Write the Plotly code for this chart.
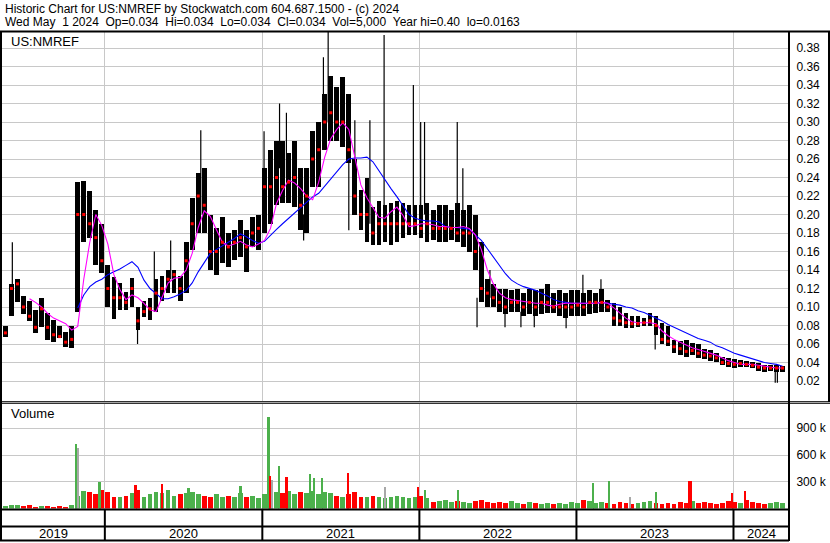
import pandas as pd
import plotly.graph_objects as go

# ---------------- data ----------------
# biweekly samples, centred on these dates
dates = pd.date_range("2019-05-15", periods=130, freq="14D")

low = [0.068, 0.09, 0.105, 0.092, 0.085, 0.072, 0.078, 0.064, 0.062, 0.066,
       0.057, 0.056, 0.095, 0.17, 0.175, 0.145, 0.137, 0.10, 0.087, 0.097,
       0.097, 0.10, 0.075, 0.089, 0.086, 0.095, 0.107, 0.115, 0.115, 0.107,
       0.115, 0.162, 0.18, 0.18, 0.14, 0.135, 0.148, 0.143, 0.151, 0.154,
       0.138, 0.165, 0.162, 0.18, 0.19, 0.21, 0.212, 0.212, 0.208, 0.183,
       0.18, 0.23, 0.23, 0.27, 0.28, 0.28, 0.273, 0.256, 0.20, 0.183,
       0.17, 0.167, 0.167, 0.17, 0.167, 0.17, 0.175, 0.178, 0.178, 0.175,
       0.17, 0.172, 0.17, 0.17, 0.172, 0.17, 0.165, 0.16, 0.14, 0.105,
       0.10, 0.10, 0.095, 0.092, 0.095, 0.095, 0.09, 0.092, 0.09, 0.092,
       0.094, 0.093, 0.09, 0.088, 0.09, 0.09, 0.09, 0.092, 0.093, 0.095,
       0.095, 0.08, 0.079, 0.077, 0.077, 0.078, 0.079, 0.079, 0.07, 0.06,
       0.058, 0.05, 0.048, 0.046, 0.048, 0.045, 0.044, 0.042, 0.041, 0.037,
       0.035, 0.034, 0.035, 0.035, 0.034, 0.031, 0.03, 0.031, 0.03, 0.03]

high = [0.08, 0.125, 0.13, 0.112, 0.107, 0.097, 0.11, 0.093, 0.086, 0.08,
        0.073, 0.08, 0.235, 0.236, 0.225, 0.205, 0.19, 0.145, 0.132, 0.126,
        0.116, 0.131, 0.10, 0.107, 0.11, 0.13, 0.133, 0.14, 0.14, 0.133,
        0.17, 0.218, 0.245, 0.25, 0.20, 0.185, 0.197, 0.18, 0.183, 0.194,
        0.183, 0.197, 0.20, 0.25, 0.27, 0.28, 0.28, 0.266, 0.28, 0.25,
        0.25, 0.29, 0.30, 0.33, 0.35, 0.338, 0.349, 0.33, 0.26, 0.226,
        0.24, 0.208, 0.215, 0.21, 0.212, 0.215, 0.212, 0.21, 0.21, 0.21,
        0.212, 0.205, 0.21, 0.21, 0.205, 0.212, 0.205, 0.21, 0.20, 0.17,
        0.13, 0.125, 0.12, 0.12, 0.118, 0.12, 0.115, 0.12, 0.118, 0.12,
        0.125, 0.115, 0.118, 0.115, 0.118, 0.118, 0.115, 0.118, 0.115, 0.12,
        0.108, 0.104, 0.10, 0.093, 0.09, 0.09, 0.088, 0.093, 0.09, 0.083,
        0.08, 0.064, 0.063, 0.064, 0.061, 0.06, 0.055, 0.054, 0.05, 0.046,
        0.045, 0.044, 0.043, 0.042, 0.041, 0.039, 0.037, 0.037, 0.037, 0.036]

close = [0.072, 0.12, 0.125, 0.10, 0.09, 0.078, 0.098, 0.078, 0.07, 0.068,
         0.062, 0.065, 0.20, 0.20, 0.19, 0.175, 0.15, 0.12, 0.11, 0.11,
         0.105, 0.12, 0.085, 0.095, 0.098, 0.115, 0.12, 0.13, 0.135, 0.12,
         0.15, 0.19, 0.22, 0.21, 0.16, 0.16, 0.17, 0.165, 0.17, 0.175,
         0.165, 0.18, 0.185, 0.23, 0.23, 0.24, 0.23, 0.235, 0.24, 0.21,
         0.22, 0.26, 0.27, 0.30, 0.31, 0.30, 0.30, 0.27, 0.22, 0.20,
         0.20, 0.18, 0.19, 0.19, 0.19, 0.19, 0.19, 0.19, 0.19, 0.185,
         0.19, 0.185, 0.185, 0.185, 0.185, 0.18, 0.18, 0.18, 0.16, 0.12,
         0.115, 0.11, 0.105, 0.10, 0.105, 0.105, 0.10, 0.105, 0.10, 0.105,
         0.105, 0.10, 0.10, 0.10, 0.10, 0.102, 0.10, 0.105, 0.105, 0.105,
         0.10, 0.088, 0.085, 0.083, 0.082, 0.082, 0.083, 0.085, 0.08, 0.065,
         0.063, 0.057, 0.055, 0.052, 0.053, 0.05, 0.048, 0.047, 0.045, 0.04,
         0.039, 0.038, 0.039, 0.038, 0.037, 0.035, 0.034, 0.034, 0.034, 0.034]

ma_fast = [None, None, None, None, 0.109, 0.105, 0.10, 0.093, 0.088, 0.085,
           0.082, 0.075, 0.079, 0.13, 0.17, 0.20, 0.188, 0.168, 0.135, 0.119,
           0.108, 0.113, 0.11, 0.104, 0.097, 0.095, 0.11, 0.126, 0.131, 0.132,
           0.14, 0.158, 0.186, 0.204, 0.198, 0.183, 0.17, 0.166, 0.168, 0.171,
           0.167, 0.165, 0.168, 0.172, 0.185, 0.212, 0.226, 0.237, 0.234, 0.228,
           0.22, 0.216, 0.235, 0.262, 0.282, 0.292, 0.299, 0.292, 0.262, 0.232,
           0.218, 0.207, 0.197, 0.196, 0.203, 0.208, 0.199, 0.187, 0.188, 0.19,
           0.19, 0.189, 0.187, 0.187, 0.186, 0.186, 0.187, 0.185, 0.178, 0.162,
           0.14, 0.125, 0.115, 0.11, 0.108, 0.107, 0.106, 0.105, 0.104, 0.104,
           0.102, 0.101, 0.103, 0.104, 0.104, 0.104, 0.104, 0.104, 0.104, 0.105,
           0.104, 0.099, 0.093, 0.088, 0.084, 0.083, 0.083, 0.083, 0.082, 0.074,
           0.069, 0.065, 0.062, 0.059, 0.056, 0.054, 0.052, 0.05, 0.048, 0.045,
           0.042, 0.04, 0.038, 0.038, 0.038, 0.037, 0.036, 0.035, 0.034, 0.034]

ma_slow = [None] * 12 + [
           0.099, 0.113, 0.122, 0.127, 0.13, 0.135, 0.138, 0.141,
           0.145, 0.149, 0.143, 0.129, 0.12, 0.114, 0.109, 0.109, 0.111, 0.114,
           0.118, 0.126, 0.138, 0.148, 0.158, 0.162, 0.166, 0.17, 0.174, 0.179,
           0.176, 0.172, 0.169, 0.171, 0.178, 0.184, 0.19, 0.196, 0.202, 0.207,
           0.214, 0.219, 0.223, 0.231, 0.238, 0.246, 0.254, 0.26, 0.261, 0.261,
           0.262, 0.257, 0.247, 0.237, 0.228, 0.219, 0.209, 0.2, 0.196, 0.194,
           0.193, 0.193, 0.192, 0.187, 0.186, 0.186, 0.185, 0.184, 0.178, 0.172,
           0.163, 0.154, 0.144, 0.136, 0.129, 0.125, 0.122, 0.12, 0.118, 0.115,
           0.112, 0.108, 0.106, 0.105, 0.104, 0.104, 0.104, 0.104, 0.104, 0.105,
           0.104, 0.103, 0.102, 0.10, 0.099, 0.096, 0.094, 0.091, 0.088, 0.085,
           0.081, 0.078, 0.075, 0.072, 0.069, 0.066, 0.064, 0.062, 0.058, 0.056,
           0.053, 0.05, 0.048, 0.046, 0.044, 0.042, 0.04, 0.039, 0.038, 0.036]

# single-day price spikes (thin lines)
spike_dates = ["2019-05-31", "2020-03-17", "2020-04-25", "2020-06-02", "2020-08-11",
               "2021-01-05", "2021-02-10", "2021-02-26", "2021-04-07", "2021-05-23",
               "2021-06-03", "2021-07-21", "2021-08-04", "2021-09-08", "2021-10-11",
               "2021-12-18", "2022-01-04", "2022-01-13", "2022-03-30", "2022-04-12",
               "2022-05-15", "2022-06-14", "2022-07-19", "2022-08-25", "2022-09-25",
               "2022-12-08", "2023-01-16", "2023-02-27", "2023-07-03", "2024-04-07",
               "2024-04-12"]
spike_from = [0.10, 0.085, 0.095, 0.13, 0.20, 0.22, 0.25, 0.24, 0.20, 0.30,
              0.30, 0.26, 0.22, 0.19, 0.20, 0.20, 0.20, 0.20, 0.20, 0.20,
              0.11, 0.11, 0.095, 0.095, 0.095, 0.095, 0.115, 0.115, 0.075, 0.033,
              0.033]
spike_to = [0.17, 0.06, 0.16, 0.172, 0.291, 0.29, 0.32, 0.31, 0.172, 0.37,
            0.40, 0.183, 0.302, 0.302, 0.394, 0.34, 0.30, 0.30, 0.30, 0.25,
            0.078, 0.14, 0.078, 0.078, 0.078, 0.077, 0.135, 0.13, 0.054, 0.018,
            0.018]

# typical volume per sample (thousands of shares)
volume_k = [30, 50, 40, 30, 45, 25, 35, 30, 25, 35,
            25, 40, 150, 200, 190, 170, 210, 190, 140, 130,
            150, 180, 210, 140, 170, 190, 180, 210, 150, 170,
            180, 190, 170, 150, 140, 170, 130, 150, 140, 180,
            130, 150, 120, 170, 200, 190, 180, 200, 170, 190,
            180, 200, 170, 190, 180, 150, 140, 170, 190, 140,
            130, 150, 140, 120, 140, 150, 130, 120, 140, 150,
            120, 80, 95, 105, 80, 95, 80, 70, 95, 105,
            80, 70, 80, 70, 95, 70, 60, 80, 70, 60,
            70, 60, 70, 60, 80, 70, 100, 95, 70, 80,
            70, 60, 80, 70, 60, 70, 80, 95, 70, 60,
            70, 60, 80, 70, 95, 70, 80, 70, 60, 70,
            95, 80, 70, 100, 80, 70, 60, 70, 80, 70]

# single-day volume spikes
vspike_dates = ["2019-10-26", "2019-10-31", "2019-12-20", "2020-03-13", "2020-05-13",
                "2020-07-14", "2020-11-12", "2021-01-16", "2021-01-20", "2021-01-24",
                "2021-02-09", "2021-02-27", "2021-04-22", "2021-05-01", "2021-05-20",
                "2021-07-19", "2021-10-13", "2021-12-29", "2022-01-14", "2022-04-01",
                "2023-02-09", "2023-03-18", "2023-05-06", "2023-07-05", "2023-09-20",
                "2023-09-25", "2023-12-29", "2024-01-28"]
vspike_k = [727, 680, 300, 265, 275, 240, 253, 1030, 370, 330,
            485, 360, 390, 350, 345, 400, 245, 245, 210, 210,
            290, 310, 140, 195, 310, 310, 175, 205]
vspike_dir = ["up", "flat", "up", "down", "down", "up", "up", "up", "down", "flat",
              "up", "down", "up", "up", "up", "down", "flat", "down", "up", "up",
              "up", "up", "flat", "up", "down", "down", "down", "down"]

years = ["2019", "2020", "2021", "2022", "2023", "2024"]
x_range = ["2019-05-07", "2024-05-09"]
price_ticks = [0.02, 0.04, 0.06, 0.08, 0.10, 0.12, 0.14, 0.16, 0.18, 0.20,
               0.22, 0.24, 0.26, 0.28, 0.30, 0.32, 0.34, 0.36, 0.38]
vol_ticks = [300000, 600000, 900000]
vol_tick_text = ["300 k", "600 k", "900 k"]

assert len(low) == len(high) == len(close) == len(ma_fast) == len(ma_slow) == len(volume_k) == 130

# ---------------- styling ----------------
FONT = "Arial, Liberation Sans, sans-serif"
GREEN = "#4CB04C"
RED = "#FF0000"
GRAY = "#A8A8A8"
GRID = "#C8C8C8"
DAY = 86400000

W, H = 830, 543
ML, MR, MT, MB = 2, 41, 32, 2
PW, PH = W - ML - MR, H - MT - MB


def px_y(py):
    return (H - MB - py) / PH


def px_x(px):
    return (px - ML) / PW


fig = go.Figure()

# price bodies (low -> high)
fig.add_trace(go.Bar(x=dates, y=[h - l for h, l in zip(high, low)], base=low,
                     width=11 * DAY, marker=dict(color="black", line=dict(width=0)),
                     xaxis="x", yaxis="y", hoverinfo="skip"))

# thin spikes
sx, sy = [], []
for d, a, b in zip(spike_dates, spike_from, spike_to):
    sx += [d, d, None]
    sy += [a, b, None]
fig.add_trace(go.Scatter(x=sx, y=sy, mode="lines", line=dict(color="black", width=1.2),
                         xaxis="x", yaxis="y", hoverinfo="skip"))

# moving averages
fig.add_trace(go.Scatter(x=dates, y=ma_slow, mode="lines", line=dict(color="#0000FF", width=1.1),
                         xaxis="x", yaxis="y", connectgaps=False))
fig.add_trace(go.Scatter(x=dates, y=ma_fast, mode="lines", line=dict(color="#FF00FF", width=1.1),
                         xaxis="x", yaxis="y", connectgaps=False))

# closes
fig.add_trace(go.Scatter(x=dates, y=close, mode="markers",
                         marker=dict(symbol="square", size=3, color=RED, line=dict(width=0)),
                         xaxis="x", yaxis="y"))

# volume
vol_colors = [GREEN] + [GREEN if close[i] >= close[i - 1] else RED for i in range(1, len(close))]
fig.add_trace(go.Bar(x=dates, y=[v * 1000 for v in volume_k], width=11 * DAY,
                     marker=dict(color=vol_colors, line=dict(width=0)),
                     xaxis="x2", yaxis="y2"))
cmap = {"up": GREEN, "down": RED, "flat": GRAY}
fig.add_trace(go.Bar(x=vspike_dates, y=[v * 1000 for v in vspike_k], width=4 * DAY,
                     marker=dict(color=[cmap[c] for c in vspike_dir], line=dict(width=0)),
                     xaxis="x2", yaxis="y2"))

year_starts = [f"{y}-01-01" for y in years[1:]]

price_bottom = 401
fig.update_layout(
    width=W, height=H, margin=dict(l=ML, r=MR, t=MT, b=MB),
    paper_bgcolor="white", plot_bgcolor="white", showlegend=False, barmode="overlay",
    bargap=0,
    font=dict(family=FONT, size=12, color="black"),
    xaxis=dict(type="date", range=x_range, domain=[0, 1], anchor="y",
               tickvals=year_starts, showticklabels=False, ticks="",
               showgrid=True, gridcolor=GRID, gridwidth=1, zeroline=False, showline=False),
    xaxis2=dict(type="date", range=x_range, domain=[0, 1], anchor="y2", matches="x",
                tickvals=year_starts, showticklabels=False, ticks="",
                showgrid=True, gridcolor=GRID, gridwidth=1, zeroline=False, showline=False),
    yaxis=dict(domain=[px_y(price_bottom), 1],
               range=[-(price_bottom - 399.5) / 925, (399.5 - MT) / 925],
               side="right", anchor="x", tickvals=price_ticks,
               ticktext=[f"{t:.2f}" for t in price_ticks],
               ticks="outside", ticklen=4, tickcolor="rgba(0,0,0,0)",
               showgrid=True, gridcolor=GRID, gridwidth=1, zeroline=False, showline=False,
               tickfont=dict(size=12, family=FONT, color="black")),
    yaxis2=dict(domain=[px_y(508.5), px_y(403.5)], range=[0, 1178000],
                side="right", anchor="x2", tickvals=vol_ticks, ticktext=vol_tick_text,
                ticks="outside", ticklen=4, tickcolor="rgba(0,0,0,0)",
                showgrid=True, gridcolor=GRID, gridwidth=1, zeroline=False, showline=False,
                tickfont=dict(size=12, family=FONT, color="black")),
)

shapes = []


def hline(py, x0px, x1px, w):
    shapes.append(dict(type="line", xref="paper", yref="paper",
                       x0=px_x(x0px), x1=px_x(x1px), y0=px_y(py), y1=px_y(py),
                       line=dict(color="black", width=w)))


def vline(px, py0, py1, w):
    shapes.append(dict(type="line", xref="paper", yref="paper",
                       x0=px_x(px), x1=px_x(px), y0=px_y(py0), y1=px_y(py1),
                       line=dict(color="black", width=w)))


hline(31.5, 0, 830, 2)          # top border
hline(401.7, 0, 830, 1)         # double line between panels
hline(403.3, 0, 830, 1)
hline(509.5, 0, 789, 2)         # year band
hline(526.5, 0, 789, 2)
hline(540.5, 0, 789, 2)
vline(1, 31, 541, 2)            # left border
vline(789, 31, 541, 2)          # right border of plot
vline(829, 31, 402, 2)          # outer right border of price panel
for ys in year_starts:
    shapes.append(dict(type="line", xref="x", yref="paper", x0=ys, x1=ys,
                       y0=px_y(509), y1=px_y(541), line=dict(color="black", width=2)))
fig.update_layout(shapes=shapes)

# annotations
ann = []
bounds = [pd.Timestamp(x_range[0])] + [pd.Timestamp(s) for s in year_starts] + [pd.Timestamp(x_range[1])]
for i, yr in enumerate(years):
    mid = bounds[i] + (bounds[i + 1] - bounds[i]) / 2
    ann.append(dict(x=mid, xref="x", y=px_y(533.5), yref="paper", text=yr, showarrow=False,
                    xanchor="center", yanchor="middle", font=dict(size=13, family=FONT, color="black")))

title1 = "Historic Chart for US:NMREF by Stockwatch.com 604.687.1500 - (c) 2024"
title2 = ("Wed May\u00a0\u00a01 2024\u00a0\u00a0Op=0.034\u00a0\u00a0Hi=0.034\u00a0\u00a0Lo=0.034"
          "\u00a0\u00a0Cl=0.034\u00a0\u00a0Vol=5,000\u00a0\u00a0Year hi=0.40\u00a0\u00a0lo=0.0163")
ann.append(dict(x=px_x(3), y=px_y(8.5), xref="paper", yref="paper", text=title1, showarrow=False,
                xanchor="left", yanchor="middle", font=dict(size=12, family=FONT, color="black")))
ann.append(dict(x=px_x(3), y=px_y(22.5), xref="paper", yref="paper", text=title2, showarrow=False,
                xanchor="left", yanchor="middle", font=dict(size=12, family=FONT, color="black")))
ann.append(dict(x=px_x(9), y=px_y(41), xref="paper", yref="paper", text="US:NMREF", showarrow=False,
                xanchor="left", yanchor="middle", font=dict(size=13, family=FONT, color="black")))
ann.append(dict(x=px_x(9), y=px_y(413), xref="paper", yref="paper", text="Volume", showarrow=False,
                xanchor="left", yanchor="middle", font=dict(size=13, family=FONT, color="black")))
fig.update_layout(annotations=ann)

fig.write_html("out.html", config={"displayModeBar": False},
               post_script="document.body.style.margin='0';document.body.style.overflow='hidden';")
